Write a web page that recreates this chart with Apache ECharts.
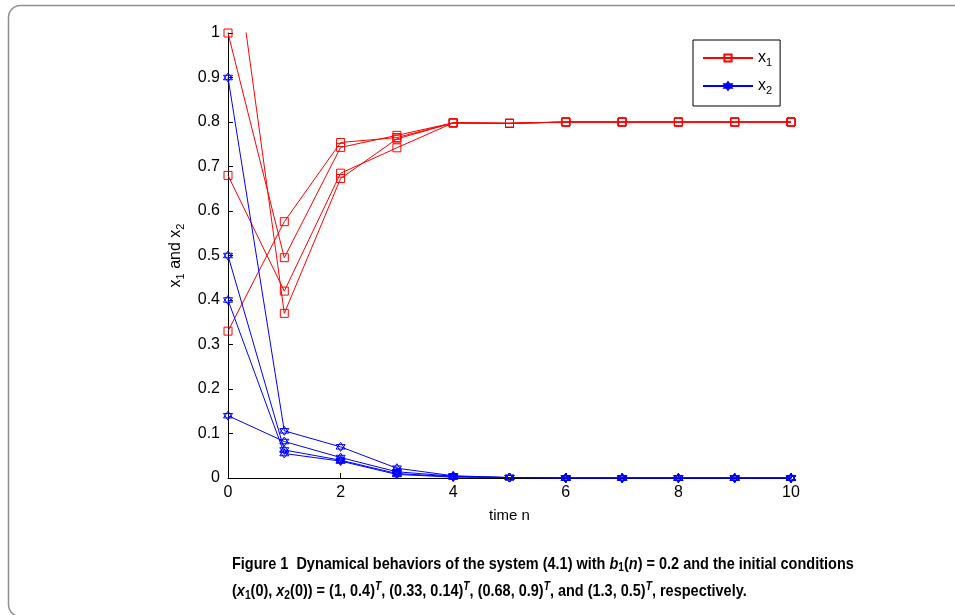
<!DOCTYPE html>
<html>
<head>
<meta charset="utf-8">
<script src="https://cdn.jsdelivr.net/npm/echarts@6/dist/echarts.min.js"></script>
<style>
  html, body { margin: 0; padding: 0; background: #fff; }
  #root { width: 955px; height: 615px; }
</style>
</head>
<body>
<div id="root"></div>
<script>
// time steps on the x axis
var timeSteps = [0, 1, 2, 3, 4, 5, 6, 7, 8, 9, 10];
var xTicks = [0, 2, 4, 6, 8, 10];
var yTicks = [0, 0.1, 0.2, 0.3, 0.4, 0.5, 0.6, 0.7, 0.8, 0.9, 1];

// x1 for the four initial conditions
var x1A = [1, 0.495, 0.743, 0.770, 0.798, 0.797, 0.8, 0.8, 0.8, 0.8, 0.8];
var x1B = [0.33, 0.576, 0.754, 0.765, 0.798, 0.797, 0.8, 0.8, 0.8, 0.8, 0.8];
var x1C = [0.68, 0.42, 0.685, 0.742, 0.798, 0.797, 0.8, 0.8, 0.8, 0.8, 0.8];
var x1D = [1.3, 0.37, 0.673, 0.762, 0.798, 0.797, 0.8, 0.8, 0.8, 0.8, 0.8];

// x2 for the four initial conditions
var x2A = [0.4, 0.055, 0.038, 0.008, 0.002, 0.001, 0, 0, 0, 0, 0];
var x2B = [0.14, 0.082, 0.046, 0.014, 0.004, 0.001, 0, 0, 0, 0, 0];
var x2C = [0.9, 0.106, 0.070, 0.022, 0.005, 0.001, 0, 0, 0, 0, 0];
var x2D = [0.5, 0.063, 0.040, 0.010, 0.003, 0.001, 0, 0, 0, 0, 0];

var RED = '#ff0000';
var BLUE = '#0000ff';
var hexagram = 'path://M0,-10L8.66,5L-8.66,5Z M0,10L-8.66,-5L8.66,-5Z';

function pairs(vals) {
    return timeSteps.map(function (t, i) { return [t, vals[i]]; });
}

function makeSeries(name, vals, color, symbol, size) {
    return {
        name: name,
        type: 'line',
        data: pairs(vals),
        symbol: symbol,
        symbolSize: size,
        showAllSymbol: true,
        clip: true,
        lineStyle: { color: color, width: 1 },
        itemStyle: { color: 'rgba(0,0,0,0)', borderColor: color, borderWidth: 1 },
        emphasis: { disabled: true }
    };
}

var series = [];
[x1A, x1B, x1C, x1D].forEach(function (v) {
    series.push(makeSeries('x1', v, RED, 'rect', 8));
});
[x2A, x2B, x2C, x2D].forEach(function (v) {
    series.push(makeSeries('x2', v, BLUE, hexagram, 9));
});

var font = 'Liberation Sans, Arial, sans-serif';
var subStyle = { fontSize: 11, fontFamily: font, color: '#000', padding: [9, 0, 0, 0] };
var capFont = 'bold 17px "Liberation Sans", Arial, sans-serif';
var capRich = {
    i: { fontStyle: 'italic', fontWeight: 'bold', fontSize: 17, fontFamily: 'Liberation Sans' },
    s: { fontWeight: 'bold', fontSize: 12, fontFamily: 'Liberation Sans', padding: [8, 0, 0, 0] },
    p: { fontStyle: 'italic', fontWeight: 'bold', fontSize: 12, fontFamily: 'Liberation Sans', padding: [0, 0, 9, 0] }
};

var chart = echarts.init(document.getElementById('root'), null, { renderer: 'canvas' });
var option = {
    animation: false,
    backgroundColor: '#fff',
    grid: { left: 228, right: 164, top: 33, bottom: 137 },
    legend: {
        data: ['x1', 'x2'],
        orient: 'vertical',
        left: 693,
        top: 40,
        backgroundColor: '#fff',
        borderColor: '#000',
        borderWidth: 1,
        borderRadius: 0,
        padding: [10, 8, 10, 9],
        itemGap: 10,
        itemWidth: 50,
        itemHeight: 9,
        formatter: function (n) { return n === 'x1' ? 'x{s|1}' : 'x{s|2}'; },
        textStyle: {
            fontSize: 16, fontFamily: font, color: '#000',
            rich: { s: subStyle }
        }
    },
    xAxis: {
        type: 'value',
        min: 0,
        max: 10,
        interval: 2,
        name: 'time n',
        nameLocation: 'middle',
        nameGap: 30,
        nameTextStyle: { fontSize: 15, fontFamily: font, color: '#000' },
        axisLine: { lineStyle: { color: '#000', width: 1 } },
        axisTick: { inside: true, length: 5, lineStyle: { color: '#000' } },
        axisLabel: {
            fontSize: 16, fontFamily: font, color: '#000', margin: 7,
            formatter: function (v) { return xTicks.indexOf(v) >= 0 ? String(v) : ''; }
        },
        splitLine: { show: false }
    },
    yAxis: {
        type: 'value',
        min: 0,
        max: 1,
        interval: 0.1,
        name: 'x{s|1} and x{s|2}',
        nameLocation: 'middle',
        nameGap: 42,
        nameTextStyle: {
            fontSize: 16, fontFamily: font, color: '#000',
            rich: { s: subStyle }
        },
        axisLine: { lineStyle: { color: '#000', width: 1 } },
        axisTick: { inside: true, length: 5, lineStyle: { color: '#000' } },
        axisLabel: {
            fontSize: 16, fontFamily: font, color: '#000', margin: 8,
            formatter: function (v) {
                var r = Math.round(v * 10) / 10;
                return yTicks.indexOf(r) >= 0 ? String(r) : '';
            }
        },
        splitLine: { show: false }
    },
    graphic: [
        {
            type: 'rect',
            shape: { x: 8.5, y: 5.5, width: 960, height: 611, r: 12 },
            style: { fill: 'none', stroke: '#8f8f8f', lineWidth: 1.5 },
            silent: true
        },
        {
            type: 'text',
            x: 232,
            y: 554,
            scaleX: 0.852,
            style: {
                text: 'Figure 1  Dynamical behaviors of the system (4.1) with {i|b}{s|1}({i|n}) = 0.2 and the initial conditions',
                font: capFont,
                fill: '#000',
                rich: capRich
            }
        },
        {
            type: 'text',
            x: 232,
            y: 581,
            scaleX: 0.852,
            style: {
                text: '({i|x}{s|1}(0), {i|x}{s|2}(0)) = (1, 0.4){p|T}, (0.33, 0.14){p|T}, (0.68, 0.9){p|T}, and (1.3, 0.5){p|T}, respectively.',
                font: capFont,
                fill: '#000',
                rich: capRich
            }
        }
    ],
    series: series
};
chart.setOption(option);
</script>
</body>
</html>
